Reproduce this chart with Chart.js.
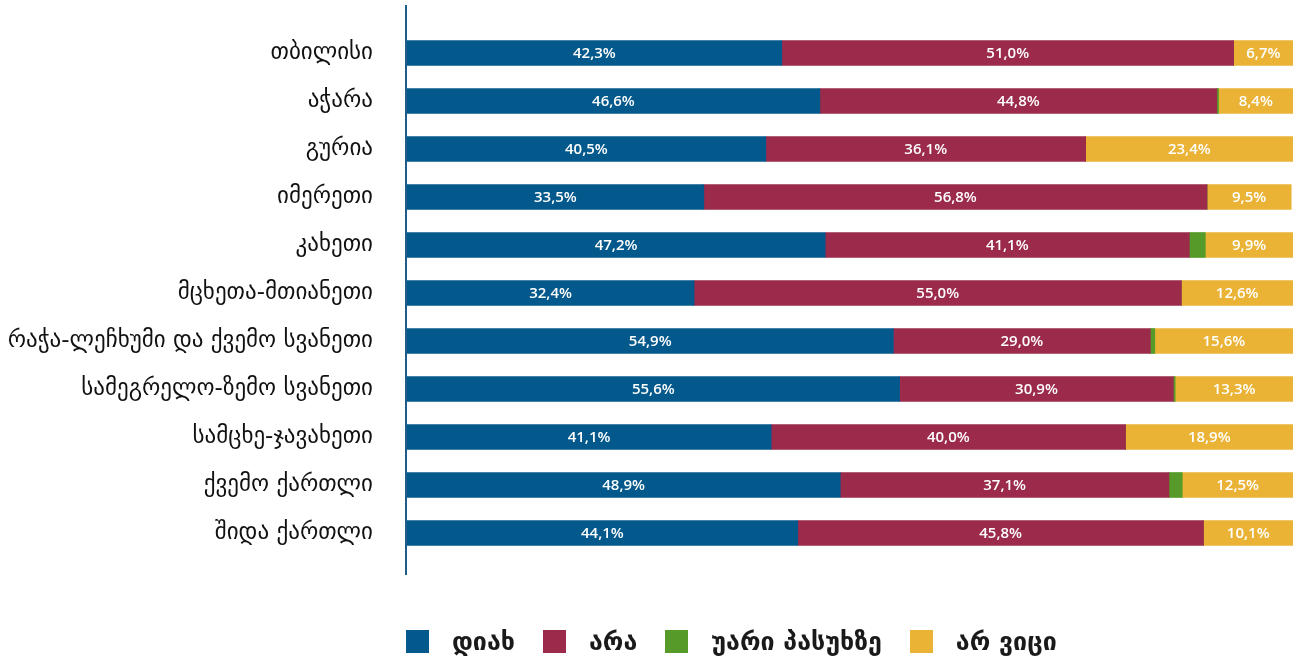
<!DOCTYPE html>
<html>
<head>
<meta charset="utf-8">
<script src="https://cdn.jsdelivr.net/npm/chart.js@4"></script>
<style>
  html, body { margin: 0; padding: 0; background: #fff; }
  #wrap { position: relative; width: 1298px; height: 659px; }
  #legend {
    position: absolute; left: 406px; top: 627px;
    display: flex; align-items: center;
    font-family: "DejaVu Sans", sans-serif; font-size: 25px; font-weight: bold; color: #1a1a1a;
  }
  #legend span.box { display: inline-block; width: 23px; height: 23px; margin-right: 23px; }
  #legend span.item { display: inline-flex; align-items: center; margin-right: 28px; }
</style>
</head>
<body>
<div id="wrap">
  <canvas id="regionChart" width="1298" height="659"></canvas>
  <div id="legend"></div>
</div>
<script>
const regions = [
  "თბილისი", "აჭარა", "გურია", "იმერეთი", "კახეთი", "მცხეთა-მთიანეთი",
  "რაჭა-ლეჩხუმი და ქვემო სვანეთი", "სამეგრელო-ზემო სვანეთი",
  "სამცხე-ჯავახეთი", "ქვემო ქართლი", "შიდა ქართლი"
];
const yes     = [42.3, 46.6, 40.5, 33.5, 47.2, 32.4, 54.9, 55.6, 41.1, 48.9, 44.1];
const no      = [51.0, 44.8, 36.1, 56.8, 41.1, 55.0, 29.0, 30.9, 40.0, 37.1, 45.8];
const refused = [0, 0.2, 0, 0, 1.8, 0, 0.5, 0.2, 0, 1.5, 0];
const dontKnow = [6.7, 8.4, 23.4, 9.5, 9.9, 12.6, 15.6, 13.3, 18.9, 12.5, 10.1];

const seriesNames = ["დიახ", "არა", "უარი პასუხზე", "არ ვიცი"];
const colors = ["#03588c", "#9b2a4b", "#569b2a", "#eab336"];

(() => {
  const ctx = document.querySelector("#regionChart");

  // white percentage labels in the middle of each segment (not on the green one)
  const segmentLabels = {
    id: "segmentLabels",
    afterDatasetsDraw(chart) {
      const c = chart.ctx;
      c.save();
      c.fillStyle = "#fff";
      c.font = "600 15px 'Open Sans'";
      c.textAlign = "center";
      c.textBaseline = "middle";
      chart.data.datasets.forEach((ds, i) => {
        if (i === 2) return;
        chart.getDatasetMeta(i).data.forEach((bar, j) => {
          const v = ds.data[j];
          if (!v) return;
          const mid = (bar.x + bar.base) / 2;
          c.fillText(v.toFixed(1).replace(".", ",") + "%", mid, bar.y + 1);
        });
      });
      c.restore();
    },
  };

  // vertical axis line, a bit longer than the plot area
  const axisLine = {
    id: "axisLine",
    afterDraw(chart) {
      const c = chart.ctx;
      const a = chart.chartArea;
      c.save();
      c.strokeStyle = "#1e5d8a";
      c.lineWidth = 2;
      c.beginPath();
      c.moveTo(a.left - 1, a.top - 24);
      c.lineTo(a.left - 1, a.bottom + 18);
      c.stroke();
      c.restore();
    },
  };

  new Chart(ctx, {
    type: "bar",
    data: {
      labels: regions,
      datasets: [yes, no, refused, dontKnow].map((d, i) => ({
        label: seriesNames[i],
        data: d,
        backgroundColor: colors[i],
        borderWidth: 0,
        barThickness: 25,
      })),
    },
    options: {
      indexAxis: "y",
      responsive: false,
      animation: false,
      layout: { padding: { top: 29, bottom: 102, right: 5, left: 0 } },
      plugins: {
        legend: { display: false },
        tooltip: { enabled: false },
      },
      scales: {
        x: { stacked: true, min: 0, max: 100, display: false },
        y: {
          stacked: true,
          grid: { display: false, drawTicks: false },
          border: { display: false },
          afterFit(scale) {
            // fixed label column; the tick padding should not push the plot down
            scale.width = 407;
            scale.paddingTop = 0;
            scale.paddingBottom = 0;
          },
          ticks: {
            padding: 34,
            color: "#111",
            font: { family: "DejaVu Sans", size: 23 },
          },
        },
      },
    },
    plugins: [segmentLabels, axisLine],
  });

  const legend = document.querySelector("#legend");
  seriesNames.forEach((name, i) => {
    const item = document.createElement("span");
    item.className = "item";
    item.innerHTML = '<span class="box" style="background:' + colors[i] + '"></span>' + name;
    legend.appendChild(item);
  });
})();
</script>
</body>
</html>
